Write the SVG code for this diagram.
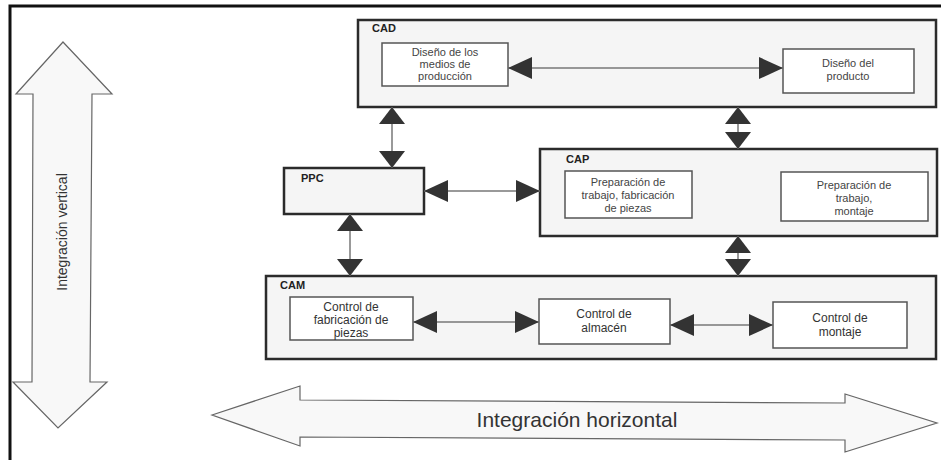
<svg xmlns="http://www.w3.org/2000/svg" width="941" height="460" viewBox="0 0 941 460">
<defs>
<style>
.frame{stroke:#111;stroke-width:3;fill:none}
.outer{fill:#f5f5f5;stroke:#2b2b2b;stroke-width:2.5}
.inner{fill:#ffffff;stroke:#555;stroke-width:1.5}
.lbl{font-family:"Liberation Sans",Arial,sans-serif;font-weight:bold;font-size:11px;fill:#222}
.t{font-family:"Liberation Sans",Arial,sans-serif;font-size:11px;fill:#444;text-anchor:middle}
.tl{font-family:"Liberation Sans",Arial,sans-serif;font-size:12px;fill:#333;text-anchor:middle}
.big{fill:#f8f8f8;stroke:#666;stroke-width:1.2}
.bt{font-family:"Liberation Sans",Arial,sans-serif;fill:#333;text-anchor:middle}
.conn{stroke:#777;stroke-width:1.5;fill:none}
</style>
<marker id="ah" markerUnits="userSpaceOnUse" markerWidth="24" markerHeight="22" viewBox="0 0 24 22" refX="24" refY="11" orient="auto-start-reverse"><path d="M0,0 L24,11 L0,22 z" fill="#333"/></marker>
<marker id="av" markerUnits="userSpaceOnUse" markerWidth="17" markerHeight="26" viewBox="0 0 17 26" refX="17" refY="13" orient="auto-start-reverse"><path d="M0,0 L17,13 L0,26 z" fill="#333"/></marker>
</defs>
<rect width="941" height="460" fill="#fff"/>
<path class="frame" d="M10,460 L10,6 L941,6"/>

<g id="vertical-integration">
<polygon class="big" points="63,42 112,94 92,94 90,382 107,382 58,428 13,382 32,382 33,94 16,94"/>
<text class="bt" font-size="14" transform="translate(67,232) rotate(-90)">Integración vertical</text>
</g>

<g id="horizontal-integration">
<polygon class="big" points="212,415 300,386 300,400 845,403 845,394 937,423 845,452 845,440 300,437 300,446"/>
<text class="bt" font-size="21" x="577" y="427">Integración horizontal</text>
</g>

<g id="CAD">
<rect class="outer" x="358" y="20" width="578" height="87"/>
<text class="lbl" x="372" y="32">CAD</text>
</g>
<g id="cad-medios">
<rect class="inner" x="382" y="43" width="126" height="43"/>
<text class="t" font-size="10"><tspan x="445" y="56">Diseño de los</tspan><tspan x="445" y="68">medios de</tspan><tspan x="445" y="80">producción</tspan></text>
</g>
<g id="cad-producto">
<rect class="inner" x="783" y="49" width="131" height="44"/>
<text class="t" font-size="10"><tspan x="848" y="67">Diseño del</tspan><tspan x="848" y="80">producto</tspan></text>
</g>

<g id="PPC">
<rect class="outer" x="284" y="168" width="140" height="46"/>
<text class="lbl" x="301" y="182">PPC</text>
</g>

<g id="CAP">
<rect class="outer" x="540" y="149" width="397" height="87"/>
<text class="lbl" x="566" y="163">CAP</text>
</g>
<g id="cap-fabricacion">
<rect class="inner" x="565" y="171" width="127" height="47"/>
<text class="t" font-size="10.5"><tspan x="628" y="186">Preparación de</tspan><tspan x="628" y="199">trabajo, fabricación</tspan><tspan x="628" y="212">de piezas</tspan></text>
</g>
<g id="cap-montaje">
<rect class="inner" x="781" y="172" width="147" height="49"/>
<text class="t" font-size="10.5"><tspan x="854" y="189">Preparación de</tspan><tspan x="854" y="202">trabajo,</tspan><tspan x="854" y="215">montaje</tspan></text>
</g>

<g id="CAM">
<rect class="outer" x="266" y="276" width="670" height="83"/>
<text class="lbl" x="280" y="289">CAM</text>
</g>
<g id="cam-fabricacion">
<rect class="inner" x="290" y="297" width="123" height="43"/>
<text class="tl"><tspan x="351" y="311">Control de</tspan><tspan x="351" y="324">fabricación de</tspan><tspan x="351" y="337">piezas</tspan></text>
</g>
<g id="cam-almacen">
<rect class="inner" x="539" y="299" width="131" height="45"/>
<text class="tl"><tspan x="604" y="318">Control de</tspan><tspan x="604" y="332">almacén</tspan></text>
</g>
<g id="cam-montaje">
<rect class="inner" x="773" y="302" width="134" height="46"/>
<text class="tl"><tspan x="840" y="322">Control de</tspan><tspan x="840" y="336">montaje</tspan></text>
</g>

<g id="connectors">
<line class="conn" x1="508" y1="68" x2="783" y2="68" marker-start="url(#ah)" marker-end="url(#ah)"/>
<line class="conn" x1="424" y1="191" x2="540" y2="191" marker-start="url(#ah)" marker-end="url(#ah)"/>
<line class="conn" x1="413" y1="322" x2="539" y2="322" marker-start="url(#ah)" marker-end="url(#ah)"/>
<line class="conn" x1="670" y1="325" x2="773" y2="325" marker-start="url(#ah)" marker-end="url(#ah)"/>
<line class="conn" x1="392" y1="107" x2="392" y2="168" marker-start="url(#av)" marker-end="url(#av)"/>
<line class="conn" x1="350" y1="214" x2="350" y2="276" marker-start="url(#av)" marker-end="url(#av)"/>
<line class="conn" x1="738" y1="107" x2="738" y2="149" marker-start="url(#av)" marker-end="url(#av)"/>
<line class="conn" x1="738" y1="236" x2="738" y2="276" marker-start="url(#av)" marker-end="url(#av)"/>
</g>
</svg>
